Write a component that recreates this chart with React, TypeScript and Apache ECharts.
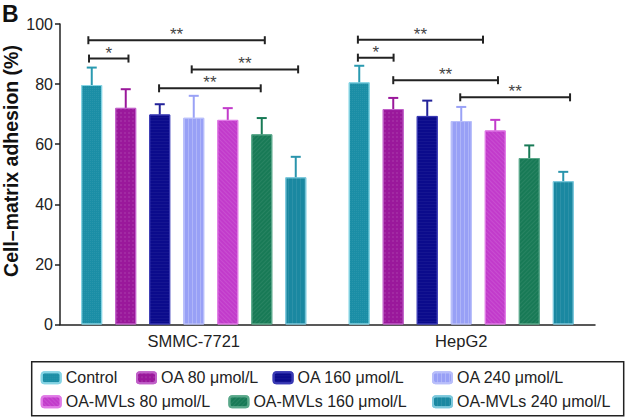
import React, { useEffect, useRef } from "react";
import * as echarts from "echarts";

const categories = ["SMMC-7721", "HepG2"];
const seriesNames = [
  "Control",
  "OA 80 μmol/L",
  "OA 160 μmol/L",
  "OA 240 μmol/L",
  "OA-MVLs 80 μmol/L",
  "OA-MVLs 160 μmol/L",
  "OA-MVLs 240 μmol/L",
];
const controlMean = [79.7, 80.6];
const oa80Mean = [72.1, 71.7];
const oa160Mean = [69.9, 69.4];
const oa240Mean = [68.8, 67.7];
const mvls80Mean = [68.1, 64.6];
const mvls160Mean = [63.3, 55.4];
const mvls240Mean = [49.0, 47.7];

const controlSd = [5.8, 5.5];
const oa80Sd = [6.2, 3.7];
const oa160Sd = [3.4, 5.1];
const oa240Sd = [7.3, 4.7];
const mvls80Sd = [3.9, 3.5];
const mvls160Sd = [5.4, 4.2];
const mvls240Sd = [6.8, 3.1];

const yTicks = [0, 20, 40, 60, 80, 100];

// significance brackets: category index, from bar, to bar (bar positions), height, label
const bracketCat = [0, 0, 0, 0, 1, 1, 1, 1];
const bracketFrom = [-0.1, -0.08, 2.94, 1.98, -0.04, -0.04, 1.0, 2.97];
const bracketTo = [5.09, 1.08, 6.07, 4.97, 3.64, 1.01, 4.08, 6.2];
const bracketY = [94.6, 88.5, 84.9, 78.6, 94.8, 88.8, 81.3, 75.6];
const bracketLabel = ["**", "*", "**", "**", "**", "*", "**", "**"];

const means = [controlMean, oa80Mean, oa160Mean, oa240Mean, mvls80Mean, mvls160Mean, mvls240Mean];
const sds = [controlSd, oa80Sd, oa160Sd, oa240Sd, mvls80Sd, mvls160Sd, mvls240Sd];

const colors = ["#1b8ea6", "#9a189b", "#0b0b8c", "#98a0f6", "#c23bcb", "#187a56", "#1a88a1"];
const borders = ["#86d4e4", "#c060c8", "#3a3ab4", "#b8befa", "#e07ae6", "#5aa88a", "#7cc8dc"];
const errColors = ["#2a9ab0", "#9a189b", "#23239a", "#9aa2f6", "#c23bcb", "#187a56", "#2a94ac"];
const decals: any[] = [
  { symbol: "rect", symbolSize: 1, dashArrayX: [1, 1], dashArrayY: [1, 1], color: "rgba(255,255,255,0.06)" },
  { symbol: "rect", symbolSize: 1, dashArrayX: [2, 2], dashArrayY: [2, 2], color: "rgba(255,255,255,0.08)" },
  { symbol: "rect", symbolSize: 1, dashArrayX: [1, 0], dashArrayY: [1, 2], color: "rgba(255,255,255,0.04)" },
  { symbol: "rect", symbolSize: 1, dashArrayX: [1, 3], dashArrayY: [1, 0], color: "rgba(255,255,255,0.22)" },
  { symbol: "rect", symbolSize: 1, dashArrayX: [1, 0], dashArrayY: [1, 2], rotation: Math.PI / 4, color: "rgba(255,255,255,0.1)" },
  { symbol: "rect", symbolSize: 1, dashArrayX: [1, 0], dashArrayY: [1, 2], rotation: -Math.PI / 4, color: "rgba(255,255,255,0.07)" },
  { symbol: "rect", symbolSize: 1, dashArrayX: [[1, 3]], dashArrayY: [1, 0], color: "rgba(255,255,255,0.08)" },
];

const legendPos = [
  [40.7, 369.7], [136, 369.7], [272.6, 369.7], [432, 369.7],
  [40.7, 393.7], [228.4, 393.7], [432, 393.7],
];

const BAR_W = 21;
const STEP = 34;

export default function App() {
  const ref = useRef<HTMLDivElement>(null);
  useEffect(() => {
    if (!ref.current) return;
    const chart = echarts.init(ref.current, null, { renderer: "svg" });
    const font = "Liberation Sans, Arial, sans-serif";

    const barSeries = seriesNames.map((name, i) => ({
      name,
      type: "bar",
      data: means[i],
      barWidth: BAR_W,
      barGap: "62%",
      itemStyle: { color: colors[i], borderColor: borders[i], borderWidth: 1, decal: decals[i] },
      z: 2,
    }));

    const errData: number[][] = [];
    for (let s = 0; s < means.length; s++) {
      for (let c = 0; c < categories.length; c++) {
        errData.push([c, s, means[s][c], sds[s][c]]);
      }
    }

    const bracketData = bracketCat.map((c, i) => [c, bracketFrom[i], bracketTo[i], bracketY[i], i]);

    const option: any = {
      animation: false,
      textStyle: { fontFamily: font },
      grid: { left: 60, right: 31, top: 24, bottom: 92.5, containLabel: false },
      xAxis: {
        type: "category",
        data: categories,
        axisLine: { lineStyle: { color: "#222", width: 1.5 } },
        axisTick: { alignWithLabel: true, length: 5, lineStyle: { color: "#222", width: 1.5 } },
        axisLabel: { fontSize: 16.5, color: "#222", margin: 8, fontFamily: font },
      },
      yAxis: {
        type: "value",
        min: yTicks[0],
        max: yTicks[yTicks.length - 1],
        interval: 20,
        axisLine: { show: true, lineStyle: { color: "#222", width: 1.5 } },
        axisTick: { show: true, length: 5, lineStyle: { color: "#222", width: 1.5 } },
        axisLabel: { fontSize: 16, color: "#222", margin: 7, fontFamily: font },
        splitLine: { show: false },
      },
      legend: seriesNames.map((n, i) => ({
        data: [n],
        left: legendPos[i][0],
        top: legendPos[i][1],
        padding: 0,
        itemWidth: 19,
        itemHeight: 11,
        itemGap: 4,
        textStyle: { fontSize: 16, lineHeight: 16, color: "#222", fontFamily: font },
        selectedMode: false,
      })),
      graphic: [
        { type: "rect", shape: { x: 31.7, y: 361.7, width: 592, height: 54 }, style: { fill: "none", stroke: "#222", lineWidth: 1.5 } },
        { type: "text", left: 2, top: 2, style: { text: "B", font: "bold 23px " + font, fill: "#111" } },
        {
          type: "text",
          x: 10.5,
          y: 161,
          rotation: Math.PI / 2,
          style: {
            text: "Cell–matrix adhesion (%)",
            font: "bold 19.5px " + font,
            fill: "#111",
            align: "center",
            verticalAlign: "middle",
          },
        },
      ],
      series: [
        ...barSeries,
        {
          type: "custom",
          name: "errors",
          data: errData,
          z: 3,
          renderItem: (params: any, api: any) => {
            const c = api.value(0);
            const s = api.value(1);
            const m = api.value(2);
            const sd = api.value(3);
            const base = api.coord([c, m]);
            const top = api.coord([c, m + sd]);
            const x = base[0] + (s - 3) * STEP;
            const col = errColors[s];
            return {
              type: "group",
              children: [
                { type: "line", shape: { x1: x, y1: base[1], x2: x, y2: top[1] }, style: { stroke: col, lineWidth: 2 } },
                { type: "line", shape: { x1: x - 5, y1: top[1], x2: x + 5, y2: top[1] }, style: { stroke: col, lineWidth: 2 } },
              ],
            };
          },
        },
        {
          type: "custom",
          name: "brackets",
          data: bracketData,
          z: 4,
          renderItem: (params: any, api: any) => {
            const c = api.value(0);
            const from = api.value(1);
            const to = api.value(2);
            const y = api.value(3);
            const idx = api.value(4);
            const p = api.coord([c, y]);
            const x1 = p[0] + (from - 3) * STEP;
            const x2 = p[0] + (to - 3) * STEP;
            const st = { stroke: "#222", lineWidth: 2 };
            return {
              type: "group",
              children: [
                { type: "line", shape: { x1, y1: p[1], x2, y2: p[1] }, style: st },
                { type: "line", shape: { x1, y1: p[1] - 4, x2: x1, y2: p[1] + 4 }, style: st },
                { type: "line", shape: { x1: x2, y1: p[1] - 4, x2, y2: p[1] + 4 }, style: st },
                {
                  type: "text",
                  x: (x1 + x2) / 2,
                  y: p[1] + 3,
                  style: {
                    text: bracketLabel[idx],
                    font: "17px " + font,
                    fill: "#444",
                    align: "center",
                    verticalAlign: "bottom",
                  },
                },
              ],
            };
          },
        },
      ],
    };
    chart.setOption(option);
    return () => chart.dispose();
  }, []);
  return <div ref={ref} style={{ width: 626, height: 417, position: "absolute", left: 0, top: 0 }} />;
}
